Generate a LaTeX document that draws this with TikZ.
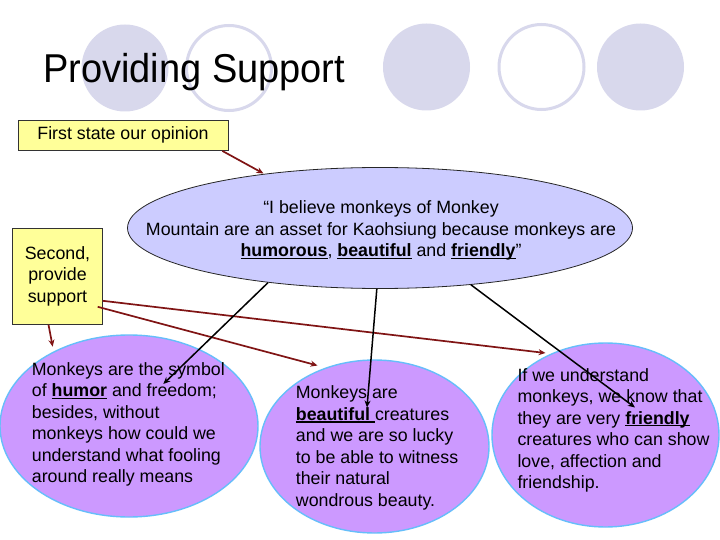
\documentclass[tikz,border=0pt]{standalone}
\usepackage{fontspec}
\setmainfont{Liberation Sans}
\usetikzlibrary{shapes.geometric,arrows.meta}
\definecolor{decoC}{RGB}{216,216,236}
\definecolor{boxY}{RGB}{255,255,153}
\definecolor{mainC}{RGB}{204,204,255}
\definecolor{subC}{RGB}{204,153,255}
\definecolor{subB}{RGB}{102,190,250}
\definecolor{arrR}{RGB}{128,20,20}
\newsavebox\ulbbox
\newcommand\ulb[1]{\sbox\ulbbox{\bfseries #1}\rlap{\rule[-2.3pt]{\wd\ulbbox}{1.3pt}}\usebox\ulbbox}
\begin{document}
\begin{tikzpicture}[x=1pt,y=-1pt,
  decofull/.style={circle, fill=decoC, minimum size=87pt, inner sep=0},
  decoring/.style={circle, draw=decoC, line width=3pt, fill=white, minimum size=85pt, inner sep=0},
  notebox/.style={draw=black!80, line width=0.8pt, fill=boxY, inner sep=0, align=center, font=\bodyfont},
  mainell/.style={ellipse, draw=black!85, line width=0.8pt, fill=mainC, inner sep=0},
  subell/.style={ellipse, draw=subB, line width=1.4pt, fill=subC, inner sep=0},
  bodytext/.style={inner sep=0, align=left, font=\bodyfont},
  redarrow/.style={draw=arrR, line width=1.7pt, -{Stealth[length=7pt,width=6pt]}},
  blackarrow/.style={draw=black, line width=1.5pt, -{Stealth[length=7pt,width=6pt]}}
]
\providecommand\bodyfont{\fontsize{17.8}{21.5}\selectfont}
\useasboundingbox (0,0) rectangle (720,540);
\fill[white] (0,0) rectangle (720,540);
% decorative circles
\node[decofull] (c1) at (125,68) {};
\node[decoring] (c2) at (229,68) {};
\node[decofull] (c3) at (426.5,67) {};
\node[decoring] (c4) at (541.5,67) {};
\node[decofull] (c5) at (640.5,67) {};
% title
\node[anchor=base west, inner sep=0, font=\fontsize{38}{40}\selectfont] (title) at (43,83) {\scalebox{1}[1.06]{Providing Support}};
% boxes
\node[notebox, minimum width=210pt, minimum height=30.5pt] (first) at (123,135.3) {First state our opinion};
\node[notebox, minimum width=89.6pt, minimum height=96pt] (second) at (57.5,276.3) {Second,\\provide\\support};
% main ellipse
\node[mainell, minimum width=505pt, minimum height=121pt] (main) at (380,228) {};
\node[inner sep=0, align=center, font=\bodyfont] (maintext) at (381,230.5)
  {``I believe monkeys of Monkey\\Mountain are an asset for Kaohsiung because monkeys are\\\ulb{humorous}, \ulb{beautiful} and \ulb{friendly}''};
% sub ellipses
\node[subell, minimum width=258pt, minimum height=182pt] (left) at (129,426) {};
\node[subell, minimum width=229pt, minimum height=173pt] (mid) at (374.5,446.5) {};
\node[subell, minimum width=227pt, minimum height=184pt] (right) at (605.5,435) {};
\node[bodytext, anchor=north west] (lefttext) at (31.7,362.3)
  {Monkeys are the symbol\\of \ulb{humor} and freedom;\\besides, without\\monkeys how could we\\understand what fooling\\around really means};
\node[bodytext, anchor=north west] (midtext) at (295.7,385.6)
  {Monkeys are\\\ulb{beautiful\ }creatures\\and we are so lucky\\to be able to witness\\their natural\\wondrous beauty.};
\node[bodytext, anchor=north west] (righttext) at (517.3,368)
  {If we understand\\monkeys, we know that\\they are very \ulb{friendly}\\creatures who can show\\love, affection and\\friendship.};
% arrow tips
\coordinate (tipmain) at (263.5,173.5);
\coordinate (tipleft) at (52.7,346.7);
\coordinate (tipmid) at (317.5,365.5);
\coordinate (tipright) at (545.5,353);
\coordinate (tiphumor) at (163.3,384);
\coordinate (tipbeaut) at (367,407.5);
\coordinate (tipfriend) at (635,407.5);
% red connectors
\draw[redarrow] ([xshift=-6pt]first.south east) -- (tipmain);
\draw[redarrow] ([xshift=-9pt]second.south) -- (tipleft);
\draw[redarrow] ([yshift=-24.5pt]second.east) -- (tipright);
\draw[redarrow] ([xshift=-5pt,yshift=-30.5pt]second.east) -- (tipmid);
% black connectors
\draw[blackarrow] (main.206) -- (tiphumor);
\draw[blackarrow] (main.267) -- (tipbeaut);
\draw[blackarrow] (main.328.5) -- (tipfriend);
\end{tikzpicture}
\end{document}
